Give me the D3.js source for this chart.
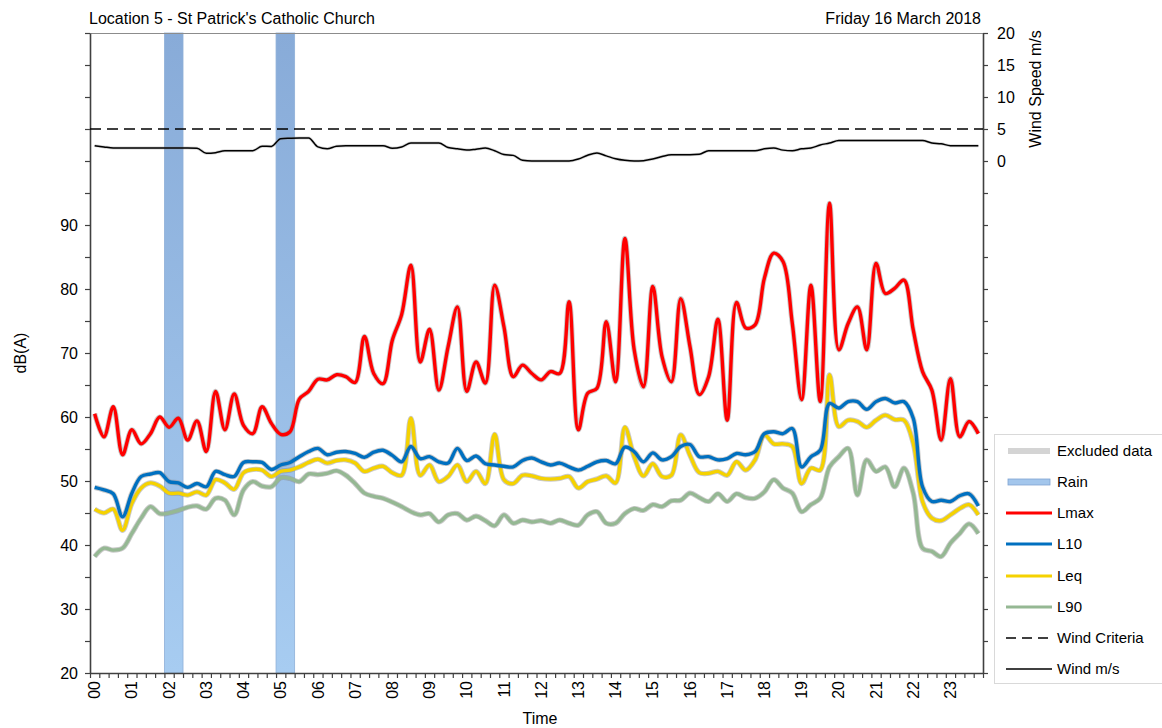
<!DOCTYPE html>
<html>
<head>
<meta charset="utf-8">
<script src="https://cdn.jsdelivr.net/npm/d3@7"></script>
<style>
  html, body { margin: 0; padding: 0; background: #fff; }
  svg { display: block; font-family: "Liberation Sans", Arial, sans-serif; }
</style>
</head>
<body>
<svg id="chart" width="1162" height="728"></svg>
<script>
// ---------------- DATA ----------------
const titleLeft = "Location 5 - St Patrick's Catholic Church";
const titleRight = "Friday 16 March 2018";
const hourLabels = ["00","01","02","03","04","05","06","07","08","09","10","11",
                    "12","13","14","15","16","17","18","19","20","21","22","23"];
const dbTicks = [20,25,30,35,40,45,50,55,60,65,70,75,80,85,90,95,100,105,110,115,120];
const dbLabels = [20,30,40,50,60,70,80,90];
const windTicks = [-80,-75,-70,-65,-60,-55,-50,-45,-40,-35,-30,-25,-20,-15,-10,-5,0,5,10,15,20];
const windLabels = [0,5,10,15,20];
const windCriteria = 5;
// rain periods as 15-min interval indices [start, end)
const rainStart = [8, 20];
const rainEnd = [10, 22];

// 96 fifteen-minute intervals
const lmax = [60.5,56.9,61.6,54.1,58,55.8,57.4,60,58.4,59.8,56.4,59.4,54.6,64,58,63.6,
  58.7,57.4,61.6,59,57.3,57.7,62.8,64,65.9,65.8,66.6,66.3,65.4,72.6,66.8,65.2,
  72,76,83.7,68.6,73.7,64.2,71,77.2,64,68.6,65.3,80.6,74.1,66.3,68.1,66.8,
  65.8,67.1,66.8,78,58,63.7,64.5,74.9,65.5,87.9,70.5,64.7,80.4,69.4,65.5,78.5,
  71,63.5,66.3,75.3,59.5,77.9,73.9,74.4,81.7,85.6,84.3,74.6,62.7,80.6,62.4,93.4,
  70.5,74.6,77.2,70.5,84,79.3,80.1,81.4,73.6,67.1,64.2,56.4,66,56.9,59.3,57.4];
const l10 = [49,48.6,48,44.4,48.1,50.7,51.1,51.3,49.9,49.7,49,49.6,49.1,51.5,51,50.7,
  52.9,53,52.9,51.8,52.5,52.9,53.8,54.6,55.1,54.1,54.5,54.6,54.3,53.7,54.5,54.8,
  54,53,55.4,53.5,53.8,53,52.8,55.1,53.2,53.9,52.7,52.5,52.3,52.2,53.2,53.6,
  53,52.5,52.8,52.2,51.7,52.3,53,53.2,52.7,55.3,54.6,53,54.4,53.3,53.8,55.4,
  55.7,53.8,53.8,53.3,53.5,54.3,54.1,54.6,57.4,57.7,57.4,58.2,52.2,53.8,54.8,62.1,
  61.4,62.4,62.4,61.2,62.4,62.9,62.2,62.4,59.8,49.1,46.8,47,46.8,47.7,48,46.1];
const leq = [45.6,45,45.6,42.3,46.5,48.9,49.7,49.2,48.1,48.1,47.8,48.3,47.8,50.2,49.7,48.7,
  51.3,51.8,51.7,50.7,51.5,51.7,52.2,52.9,53.4,52.8,53.2,53.3,52.8,51.5,52,52.3,
  51.3,50.9,59.8,50.9,52.5,49.9,50.7,52.5,49.9,51.5,49.6,57.3,50.2,49.6,50.9,50.8,
  50.4,50.3,50.4,50.7,48.9,49.9,50.3,50.8,49.7,58.4,53.8,50.8,52.7,50.7,50.9,57.2,
  54,51.3,51.2,51.5,50.9,53,51.7,53.3,57.2,55.8,55.8,55.4,49.6,52,51.7,66.6,
  58.5,59.5,59.3,58.4,59.5,60.3,59.6,59.5,55.9,46.8,44.2,43.8,44.7,45.7,46.3,44.7];
const l90 = [38.2,39.5,39.2,39.5,41.8,44.2,46,44.9,45,45.4,45.9,46.1,45.6,47.3,47,44.7,
  48.6,49.9,49.2,49.1,50.5,50.4,49.9,51.1,51,51.2,51.6,50.9,49.6,48.1,47.6,47.3,
  46.7,46,45.2,44.7,44.9,43.6,44.7,44.9,43.9,44.5,43.8,43,44.7,43.4,43.9,43.6,
  43.8,43.4,43.9,43.4,43.1,44.7,45.2,43.4,43.4,44.9,45.7,45.4,46.3,46,46.9,47,
  48.1,47.4,46.8,48,46.8,48,47.4,47.3,48.3,50.2,48.9,48.1,45.2,46.3,47.3,52.2,
  53.8,55.1,47.8,53.3,51.5,52.2,49.1,52,48.1,39.5,39,38.2,40.3,41.8,43.3,41.8];
const wind = [2.4,2.2,2.03,2.03,2.03,2.03,2.03,2.03,2.03,2.03,2.03,2.0,1.2,1.3,1.6,1.61,
  1.61,1.61,2.3,2.28,3.48,3.55,3.59,3.59,2.2,1.92,2.3,2.39,2.39,2.39,2.39,2.39,
  2.0,2.2,2.81,2.81,2.81,2.81,2.1,1.9,1.71,1.85,2.03,1.6,1.0,0.88,0.1,0,
  0,0,0,0,0.3,0.9,1.25,0.8,0.35,0.1,0,0.05,0.3,0.7,0.98,0.98,
  0.98,1.05,1.61,1.61,1.61,1.61,1.61,1.61,1.9,2.03,1.7,1.61,1.9,2.03,2.5,2.81,
  3.2,3.22,3.22,3.22,3.22,3.22,3.22,3.22,3.22,3.2,2.81,2.7,2.39,2.39,2.39,2.39];

const seriesNames = ["Lmax","L10","Leq","L90"];
const seriesColors = ["#ff0000","#0070c0","#f5d200","#95b893"];
const seriesData = [lmax, l10, leq, l90];

// ---------------- LAYOUT ----------------
const svg = d3.select("#chart");
const X0 = 90, X1 = 983, Y0 = 33, Y1 = 673;
const FONT = 16;

const x = d3.scaleLinear().domain([0, 96]).range([X0, X1]);
const y = d3.scaleLinear().domain([20, 120]).range([Y1, Y0]);
const yW = d3.scaleLinear().domain([-80, 20]).range([Y1, Y0]);

const defs = svg.append("defs");
const grad = defs.append("linearGradient").attr("id","rainGrad")
  .attr("x1",0).attr("y1",0).attr("x2",0).attr("y2",1);
grad.append("stop").attr("offset","0%").attr("stop-color","#88abd8");
grad.append("stop").attr("offset","100%").attr("stop-color","#a7ccf1");
defs.append("clipPath").attr("id","plotClip").append("rect")
  .attr("x",X0).attr("y",Y0).attr("width",X1-X0).attr("height",Y1-Y0);

// Titles
svg.append("text").attr("x",89).attr("y",24).attr("font-size",FONT).attr("fill","#000").text(titleLeft);
svg.append("text").attr("x",981).attr("y",24).attr("font-size",FONT).attr("text-anchor","end").attr("fill","#000").text(titleRight);

// Rain bands
const rain = rainStart.map((s,i) => ({s, e: rainEnd[i]}));
svg.append("g").selectAll("rect").data(rain).join("rect")
  .attr("x", d => x(d.s)).attr("y", Y0)
  .attr("width", d => x(d.e) - x(d.s)).attr("height", Y1 - Y0)
  .attr("fill","url(#rainGrad)").attr("stroke","#8fb0d8").attr("stroke-width",0.8);

// Top border
svg.append("line").attr("x1",X0).attr("x2",X1).attr("y1",Y0+0.5).attr("y2",Y0+0.5)
  .attr("stroke","#8c8c8c").attr("stroke-width",1);

// Left axis
const gL = svg.append("g").attr("transform",`translate(${X0},0)`)
  .call(d3.axisLeft(y).tickValues(dbTicks).tickSize(5).tickSizeOuter(0)
    .tickFormat(d => dbLabels.includes(d) ? d : ""));
// Right axis
const gR = svg.append("g").attr("transform",`translate(${X1},0)`)
  .call(d3.axisRight(yW).tickValues(windTicks).tickSize(5).tickSizeOuter(0)
    .tickFormat(d => windLabels.includes(d) ? d : ""));
// Bottom axis (interval boundaries)
const gB = svg.append("g").attr("transform",`translate(0,${Y1})`)
  .call(d3.axisBottom(x).tickValues(d3.range(0, 97)).tickSize(5).tickSizeOuter(0).tickFormat(""));

[gL, gR, gB].forEach(g => {
  g.select(".domain").attr("stroke","#404040").attr("stroke-width",1.6);
  g.selectAll(".tick line").attr("stroke","#404040").attr("stroke-width",1.2);
  g.selectAll(".tick text").attr("font-size",FONT).attr("fill","#000")
    .attr("font-family","'Liberation Sans', Arial, sans-serif");
});
gL.selectAll(".tick text").attr("x",-12);
gR.selectAll(".tick text").attr("x",14);

// Hour labels (centred on interval)
svg.append("g").selectAll("text").data(hourLabels).join("text")
  .attr("transform",(d,i) => `translate(${x(i*4+0.5)},${Y1+8}) rotate(-90)`)
  .attr("text-anchor","end").attr("dy","0.35em").attr("font-size",FONT).attr("fill","#000")
  .text(d => d);

// Axis titles
svg.append("text").attr("transform",`translate(26,353) rotate(-90)`).attr("text-anchor","middle")
  .attr("font-size",FONT).attr("fill","#000").text("dB(A)");
svg.append("text").attr("transform",`translate(1041,89) rotate(-90)`).attr("text-anchor","middle")
  .attr("font-size",FONT).attr("fill","#000").text("Wind Speed m/s");
svg.append("text").attr("x",540).attr("y",724).attr("text-anchor","middle")
  .attr("font-size",FONT).attr("fill","#000").text("Time");

// Lines
const plot = svg.append("g").attr("clip-path","url(#plotClip)");
const line = d3.line().x((d,i) => x(i + 0.5)).y(d => y(d)).curve(d3.curveCatmullRom.alpha(0.5));

// Wind criteria
plot.append("line").attr("x1",X0).attr("x2",X1)
  .attr("y1",yW(windCriteria)).attr("y2",yW(windCriteria))
  .attr("stroke","#000").attr("stroke-width",1.6).attr("stroke-dasharray","11,6");

// Wind line
const windLine = d3.line().x((d,i) => x(i + 0.5)).y(d => yW(d)).curve(d3.curveMonotoneX);
plot.append("path").datum(wind).attr("d", windLine).attr("fill","none")
  .attr("stroke","#999").attr("stroke-opacity",0.4).attr("stroke-width",3);
plot.append("path").datum(wind).attr("d", windLine).attr("fill","none")
  .attr("stroke","#000").attr("stroke-width",1.5);

// Noise series (L90 drawn first, Lmax last)
[3,2,1,0].forEach(k => {
  plot.append("path").datum(seriesData[k]).attr("d", line).attr("fill","none")
    .attr("stroke","#8a8a8a").attr("stroke-opacity",0.45).attr("stroke-width",5.2)
    .attr("stroke-linejoin","round");
  plot.append("path").datum(seriesData[k]).attr("d", line).attr("fill","none")
    .attr("stroke",seriesColors[k]).attr("stroke-width",3.4).attr("stroke-linejoin","round");
});

// Legend
const lg = svg.append("g");
lg.append("rect").attr("x",994.5).attr("y",434.5).attr("width",200).attr("height",249)
  .attr("fill","#fff").attr("stroke","#d9d9d9").attr("stroke-width",1);
const legendItems = [
  {name:"Excluded data", type:"excl", y:451},
  {name:"Rain", type:"rain", y:482},
  {name:"Lmax", type:"line", c:seriesColors[0], y:513},
  {name:"L10", type:"line", c:seriesColors[1], y:544},
  {name:"Leq", type:"line", c:seriesColors[2], y:576},
  {name:"L90", type:"line", c:seriesColors[3], y:607},
  {name:"Wind Criteria", type:"dash", y:638},
  {name:"Wind m/s", type:"wind", y:669}
];
legendItems.forEach(it => {
  const lx1 = 1006, lx2 = 1052;
  if (it.type === "excl") {
    lg.append("line").attr("x1",lx1+2).attr("x2",lx2-2).attr("y1",it.y).attr("y2",it.y)
      .attr("stroke","#d4d4d4").attr("stroke-width",6);
  } else if (it.type === "rain") {
    lg.append("rect").attr("x",lx1+2).attr("y",it.y-3).attr("width",lx2-lx1-4).attr("height",6)
      .attr("fill","#a3c6ec").attr("stroke","#7fa3d2").attr("stroke-width",0.8);
  } else if (it.type === "line") {
    lg.append("line").attr("x1",lx1).attr("x2",lx2).attr("y1",it.y).attr("y2",it.y)
      .attr("stroke",it.c).attr("stroke-width",3.2);
  } else if (it.type === "dash") {
    lg.append("line").attr("x1",lx1).attr("x2",lx2).attr("y1",it.y).attr("y2",it.y)
      .attr("stroke","#000").attr("stroke-width",1.6).attr("stroke-dasharray","10,6");
  } else {
    lg.append("line").attr("x1",lx1).attr("x2",lx2).attr("y1",it.y).attr("y2",it.y)
      .attr("stroke","#000").attr("stroke-width",1.5);
  }
  lg.append("text").attr("x",1057).attr("y",it.y).attr("dy","0.35em")
    .attr("font-size",15).attr("fill","#000").text(it.name);
});
</script>
</body>
</html>
